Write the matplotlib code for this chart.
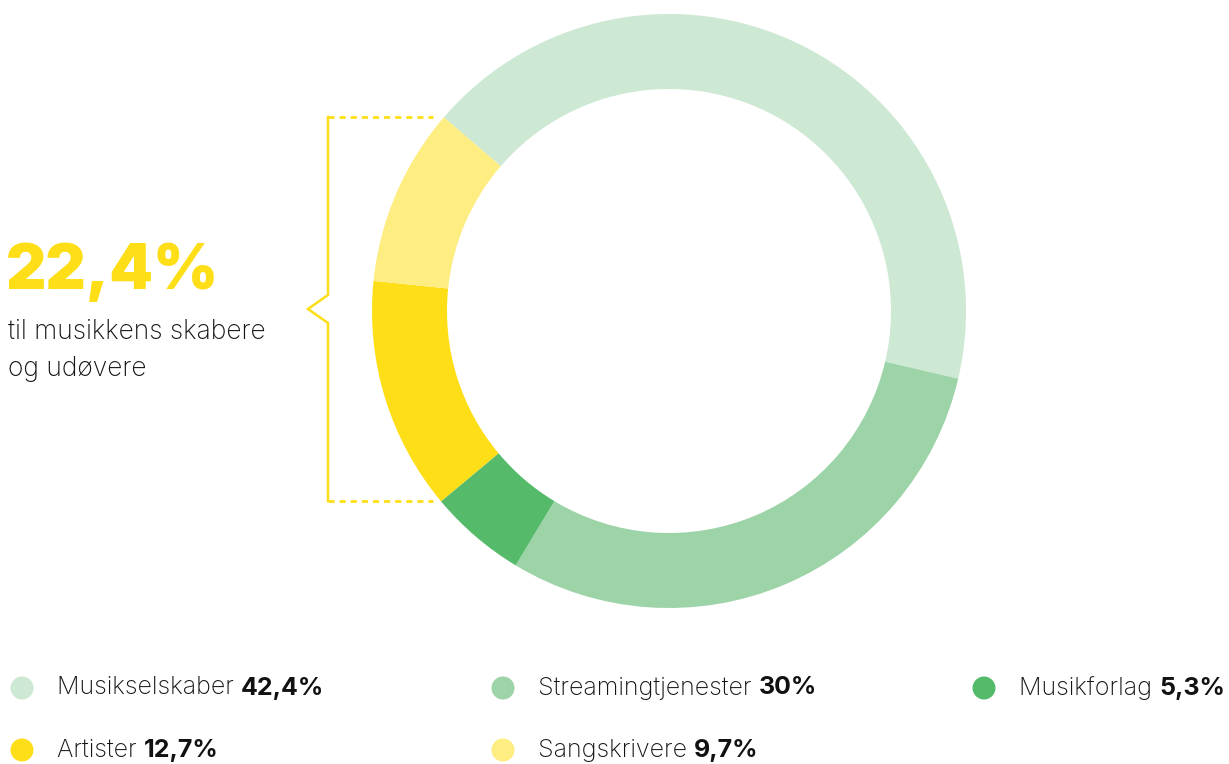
import matplotlib.pyplot as plt
from matplotlib.patches import Circle

# data, clockwise from the top-left
labels = ["Musikselskaber", "Streamingtjenester", "Musikforlag", "Artister", "Sangskrivere"]
shares = [42.4, 30, 5.3, 12.7, 9.7]
share_txt = ["42,4%", "30%", "5,3%", "12,7%", "9,7%"]
colors = ["#cde8d3", "#9cd3a7", "#55bb6b", "#fede17", "#feed80"]
yellow = "#fede17"

# legend grid order (row by row)
legend_order = [0, 1, 2, 3, 4]
legend_pos = [(22, 688), (503, 688), (984, 688), (22, 750), (503, 750)]

W, H = 1229, 764
fig = plt.figure(figsize=(W / 100, H / 100), dpi=100)
ax = fig.add_axes([0, 0, 1, 1])

def py(y):
    # pixel row -> data y
    return H - y

cx, cy, r_out, width = 669, py(311), 297, 75
ax.pie(shares, colors=colors, startangle=139.3, counterclock=False,
       center=(cx, cy), radius=r_out, frame=True,
       wedgeprops=dict(width=width, linewidth=0))
ax.set_xlim(0, W)
ax.set_ylim(0, H)
ax.set_aspect("equal")
ax.axis("off")

# bracket
bx = 328
dash = (0, (2.2, 1.8))
ax.plot([bx, 433], [py(117), py(117)], color=yellow, lw=2.0, ls=dash, solid_capstyle="butt")
ax.plot([bx, 433], [py(501), py(501)], color=yellow, lw=2.0, ls=dash, solid_capstyle="butt")
ax.plot([bx, bx, 308, bx, bx], [py(117), py(295), py(309), py(323), py(501)],
        color=yellow, lw=1.8, solid_joinstyle="miter")

fam = ["Inter", "DejaVu Sans"]
ax.text(6, py(272), "22,4%", color=yellow, fontsize=45, fontweight="black",
        family=fam, va="center", ha="left")
ax.text(8, py(332), "til musikkens skabere", color="#151515", fontsize=19,
        fontweight="light", family=fam, va="center", ha="left")
ax.text(8, py(369), "og udøvere", color="#151515", fontsize=19,
        fontweight="light", family=fam, va="center", ha="left")

for i, (x, y) in zip(legend_order, legend_pos):
    ax.add_patch(Circle((x, py(y)), 11.5, color=colors[i], lw=0))
    t = ax.text(x + 35, py(y), labels[i] + " ", color="#151515", fontsize=18,
                fontweight="light", family=fam, va="center", ha="left")
    fig.canvas.draw()
    bb = t.get_window_extent()
    ax.text(bb.x1, py(y), share_txt[i], color="#111111", fontsize=18,
            fontweight="bold", family=fam, va="center", ha="left")

fig.savefig("out.png", dpi=100)
